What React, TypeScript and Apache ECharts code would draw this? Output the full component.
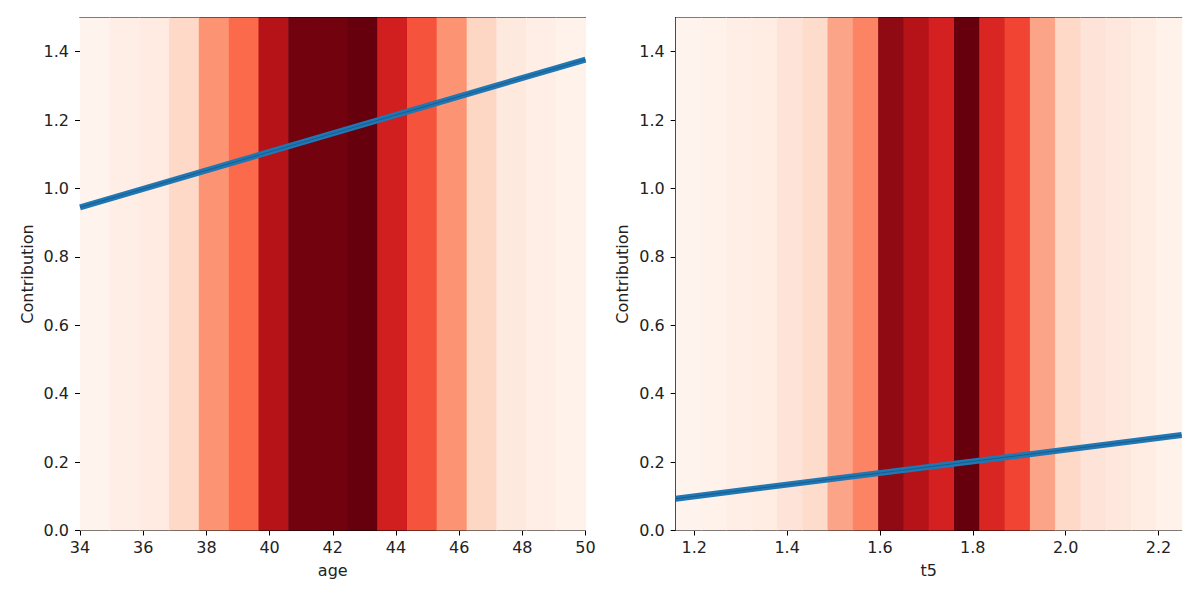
import React, { useEffect, useRef } from "react";
import * as echarts from "echarts";

// ---- data ----
const ageEdges = [34, 34.94, 35.88, 36.82, 37.76, 38.71, 39.65, 40.59, 41.53, 42.47, 43.41, 44.35, 45.29, 46.24, 47.18, 48.12, 49.06, 50];
const ageDensity = [0.01, 0.04, 0.06, 0.15, 0.37, 0.5, 0.82, 0.98, 0.98, 1.0, 0.73, 0.56, 0.37, 0.16, 0.07, 0.04, 0.02];
const ageLineX = [34, 50];
const ageLineY = [0.945, 1.377];
const ageTicks = [34, 36, 38, 40, 42, 44, 46, 48, 50];

const t5Edges = [1.16, 1.2145, 1.269, 1.3235, 1.378, 1.4325, 1.487, 1.5415, 1.596, 1.6505, 1.705, 1.7595, 1.814, 1.8685, 1.923, 1.9775, 2.032, 2.0865, 2.141, 2.1955, 2.25];
const t5Density = [0.01, 0.02, 0.04, 0.05, 0.1, 0.14, 0.32, 0.42, 0.92, 0.82, 0.72, 1.0, 0.7, 0.6, 0.32, 0.15, 0.1, 0.08, 0.05, 0.02];
const t5LineX = [1.16, 2.25];
const t5LineY = [0.093, 0.279];
const t5Ticks = [1.2, 1.4, 1.6, 1.8, 2.0, 2.2];

const yTicks = [0, 0.2, 0.4, 0.6, 0.8, 1.0, 1.2, 1.4];

// matplotlib "Reds" colormap stops
const REDS = ["#fff5f0", "#fee0d2", "#fcbba1", "#fc9272", "#fb6a4a", "#ef3b2c", "#cb181d", "#a50f15", "#67000d"];

function hexToRgb(h: string) {
  const n = parseInt(h.slice(1), 16);
  return [(n >> 16) & 255, (n >> 8) & 255, n & 255];
}
function reds(t: number) {
  const v = Math.max(0, Math.min(1, t)) * (REDS.length - 1);
  const i = Math.min(REDS.length - 2, Math.floor(v));
  const f = v - i;
  const a = hexToRgb(REDS[i]);
  const b = hexToRgb(REDS[i + 1]);
  const c = a.map((x, k) => Math.round(x + (b[k] - x) * f));
  return `rgb(${c[0]},${c[1]},${c[2]})`;
}

const FONT = "DejaVu Sans";
const FS = 16;
const TXT = "#222";

function bandData(edges: number[], dens: number[]) {
  return dens.map((d, i) => [edges[i], edges[i + 1], d]);
}

function bandSeries(idx: number, edges: number[], dens: number[]) {
  return {
    type: "custom",
    xAxisIndex: idx,
    yAxisIndex: idx,
    data: bandData(edges, dens),
    encode: { x: [0, 1] },
    silent: true,
    z: 1,
    renderItem: (params: any, api: any) => {
      const p0 = api.coord([api.value(0), 1.5]);
      const p1 = api.coord([api.value(1), 0]);
      return {
        type: "rect",
        shape: { x: p0[0], y: p0[1], width: p1[0] - p0[0] + 0.6, height: p1[1] - p0[1] },
        style: { fill: reds(api.value(2)) },
      };
    },
  };
}

function lineSeries(idx: number, xs: number[], ys: number[]) {
  const data = xs.map((x, i) => [x, ys[i]]);
  return [
    {
      type: "line",
      xAxisIndex: idx,
      yAxisIndex: idx,
      data,
      symbol: "none",
      silent: true,
      z: 3,
      lineStyle: { color: "#1f77b4", width: 6 },
    },
    {
      type: "line",
      xAxisIndex: idx,
      yAxisIndex: idx,
      data,
      symbol: "none",
      silent: true,
      z: 4,
      lineStyle: { color: "#17507e", width: 1, opacity: 0.7 },
    },
  ];
}

function mainX(gridIndex: number, min: number, max: number, ticks: number[], name: string, fmt: (v: number) => string) {
  return {
    type: "value",
    gridIndex,
    min,
    max,
    position: "bottom",
    name,
    nameLocation: "middle",
    nameGap: 32,
    nameTextStyle: { fontFamily: FONT, fontSize: FS, color: TXT },
    axisLine: { show: true, onZero: false, lineStyle: { color: "#000", width: 1 } },
    axisTick: { show: true, inside: false, length: 5, customValues: ticks, lineStyle: { color: "#000" } },
    axisLabel: { show: true, margin: 9, customValues: ticks, formatter: fmt, fontFamily: FONT, fontSize: FS, color: TXT },
    splitLine: { show: false },
  };
}
function mainY(gridIndex: number) {
  return {
    type: "value",
    gridIndex,
    min: 0,
    max: 1.5,
    position: "left",
    name: "Contribution",
    nameLocation: "middle",
    nameRotate: 90,
    nameGap: 45,
    nameTextStyle: { fontFamily: FONT, fontSize: FS, color: TXT },
    axisLine: { show: true, onZero: false, lineStyle: { color: "#000", width: 1 } },
    axisTick: { show: true, inside: false, length: 5, customValues: yTicks, lineStyle: { color: "#000" } },
    axisLabel: { show: true, margin: 11, customValues: yTicks, formatter: (v: number) => v.toFixed(1), fontFamily: FONT, fontSize: FS, color: TXT },
    splitLine: { show: false },
  };
}
function spineX(gridIndex: number, min: number, max: number) {
  return {
    type: "value", gridIndex, min, max, position: "top",
    axisLine: { show: true, onZero: false, lineStyle: { color: "#000", width: 1 } },
    axisTick: { show: false }, axisLabel: { show: false }, splitLine: { show: false },
  };
}
function spineY(gridIndex: number) {
  return {
    type: "value", gridIndex, min: 0, max: 1.5, position: "right",
    axisLine: { show: true, onZero: false, lineStyle: { color: "#000", width: 1 } },
    axisTick: { show: false }, axisLabel: { show: false }, splitLine: { show: false },
  };
}

export default function App() {
  const ref = useRef<HTMLDivElement>(null);
  useEffect(() => {
    if (!ref.current) return;
    const chart = echarts.init(ref.current, undefined, { renderer: "svg" });
    chart.setOption({
      animation: false,
      backgroundColor: "#fff",
      grid: [
        { left: 80, top: 17.5, width: 505.5, height: 513 },
        { left: 675.7, top: 17.5, width: 506, height: 513 },
      ],
      xAxis: [
        mainX(0, ageEdges[0], ageEdges[ageEdges.length - 1], ageTicks, "age", (v: number) => String(v)),
        mainX(1, t5Edges[0], t5Edges[t5Edges.length - 1], t5Ticks, "t5", (v: number) => v.toFixed(1)),
        spineX(0, ageEdges[0], ageEdges[ageEdges.length - 1]),
        spineX(1, t5Edges[0], t5Edges[t5Edges.length - 1]),
      ],
      yAxis: [mainY(0), mainY(1), spineY(0), spineY(1)],
      series: [
        bandSeries(0, ageEdges, ageDensity),
        bandSeries(1, t5Edges, t5Density),
        ...lineSeries(0, ageLineX, ageLineY),
        ...lineSeries(1, t5LineX, t5LineY),
      ],
    });
    return () => chart.dispose();
  }, []);
  return (
    <div
      ref={ref}
      style={{ position: "fixed", left: 0, top: 0, width: 1200, height: 600, background: "#fff" }}
    />
  );
}
